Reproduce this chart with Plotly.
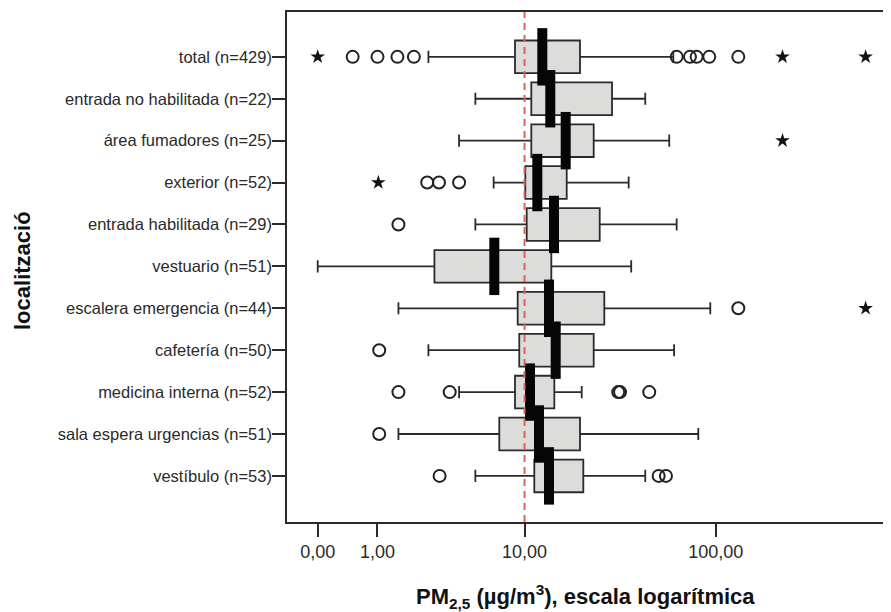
import numpy as np
import plotly.graph_objects as go

categories = [
    "total (n=429)", "entrada no habilitada (n=22)", "área fumadores (n=25)",
    "exterior (n=52)", "entrada habilitada (n=29)", "vestuario (n=51)",
    "escalera emergencia (n=44)", "cafetería (n=50)", "medicina interna (n=52)",
    "sala espera urgencias (n=51)", "vestíbulo (n=53)",
]
whisker_low = [2.61, 5.22, 4.15, 6.69, 5.22, 0.0, 1.55, 2.61, 4.15, 1.55, 5.22]
q1 = [8.85, 10.90, 10.90, 10.10, 10.28, 2.87, 9.16, 9.35, 8.85, 7.21, 11.32]
median = [12.52, 13.83, 16.73, 11.76, 14.48, 6.75, 13.61, 14.79, 10.72, 12.01, 13.61]
q3 = [19.93, 29.34, 23.53, 16.94, 25.30, 14.01, 26.74, 23.53, 14.54, 19.93, 20.75]
whisker_high = [60.75, 43.6, 57.9, 35.8, 63.2, 36.9, 93.8, 61.3, 20.35, 81.5, 43.6]
outliers = [
    [0.50, 1.00, 1.52, 2.05, 63.2, 73.9, 79.9, 92.7, 130.2],
    [], [], [2.56, 3.08, 4.15], [1.55], [], [130.2], [1.04],
    [1.55, 3.62, 31.6, 32.3, 45.7], [1.04], [3.11, 51.1, 55.7],
]
extremes = [[0.0, 218, 573], [], [218], [1.02], [], [], [573], [], [], [], []]
tick_values = [0, 1, 10, 100]
tick_labels = ["0,00", "1,00", "10,00", "100,00"]
reference_limit = 10


def tr(v):
    return np.log10(np.asarray(v, dtype=float) + 1.0)


pos = list(range(len(categories)))
dark = "#2b2b2b"

fig = go.Figure()
fig.add_trace(go.Box(
    y=pos, q1=tr(q1), median=tr(median), q3=tr(q3),
    lowerfence=tr(whisker_low), upperfence=tr(whisker_high),
    orientation="h", width=0.78, whiskerwidth=0.37,
    fillcolor="#dcdcda", line=dict(color=dark, width=1.8),
    boxpoints=False, showlegend=False, hoverinfo="skip",
))
fig.add_trace(go.Scatter(
    x=tr(median), y=pos, mode="markers", showlegend=False, hoverinfo="skip",
    marker=dict(symbol="line-ns", size=41, line=dict(width=10, color="#050505")),
))
ox, oy, ex, ey = [], [], [], []
for i in pos:
    ox += list(outliers[i]); oy += [i] * len(outliers[i])
    ex += list(extremes[i]); ey += [i] * len(extremes[i])
fig.add_trace(go.Scatter(
    x=tr(ox), y=oy, mode="markers", showlegend=False, hoverinfo="skip",
    marker=dict(symbol="circle-open", size=12, color="#222", line=dict(width=2, color="#222")),
))
fig.add_trace(go.Scatter(
    x=tr(ex), y=ey, mode="markers", showlegend=False, hoverinfo="skip",
    marker=dict(symbol="star", size=11, color="#111", line=dict(width=0)),
))

ref_t = float(tr(reference_limit))
fig.add_shape(type="line", xref="x", yref="paper", x0=ref_t, x1=ref_t, y0=0, y1=1,
              line=dict(color="#e5605a", width=2, dash="7px,5px"), layer="above")

axis_common = dict(showline=True, mirror=True, linecolor=dark, linewidth=1.5,
                   ticks="outside", tickcolor=dark, tickwidth=1.5, ticklen=13,
                   showgrid=False, zeroline=False, automargin=False)
fig.update_layout(
    width=891, height=612,
    # the page body adds an 8px offset; margins compensate for it
    margin=dict(l=279, r=15, t=4, b=98),
    plot_bgcolor="white", paper_bgcolor="white",
    font=dict(family="Liberation Sans, Arial, sans-serif", size=18, color="#2a2a2a"),
    xaxis=dict(range=[-0.1546, 2.8515], tickmode="array", tickvals=tr(tick_values),
               ticktext=tick_labels, **axis_common),
    yaxis=dict(range=[11.1, -1.07], tickmode="array", tickvals=pos,
               ticktext=categories, tickfont=dict(size=16.5),
               ticklabelstandoff=-3, **axis_common),
    annotations=[
        dict(text="<b>PM<sub>2,5</sub> (µg/m<sup>3</sup>), escala logarítmica</b>",
             xref="paper", yref="paper", x=0.5, y=-0.147, xanchor="center",
             yanchor="middle", showarrow=False, font=dict(size=22, color="#111")),
        dict(text="<b>localització</b>", xref="paper", yref="paper", x=-0.444,
             y=0.494, xanchor="center", yanchor="middle", textangle=-90,
             showarrow=False, font=dict(size=22, color="#111")),
    ],
)
fig.write_html("out.html")
